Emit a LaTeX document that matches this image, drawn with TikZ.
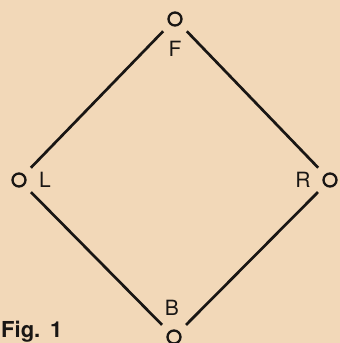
\documentclass[tikz,border=0pt]{standalone}
\usepackage{fontspec}
\setmainfont{TeX Gyre Heros}
\definecolor{paper}{RGB}{242,216,184}
\definecolor{ink}{RGB}{25,22,20}
\begin{document}
\begin{tikzpicture}[x=1pt,y=-1pt,
  pt/.style={circle,draw=ink,line width=2.3pt,minimum size=13pt,inner sep=0pt},
  edge/.style={draw=ink,line width=2.7pt,shorten <=17pt,shorten >=17pt},
  lab/.style={text=ink,font=\fontsize{21}{21}\selectfont,inner sep=0pt}]
\fill[paper] (0,0) rectangle (340,343);
\useasboundingbox (0,0) rectangle (340,343);
\node[pt] (F) at (175,19) {};
\node[pt] (L) at (19,180) {};
\node[pt] (R) at (330,180) {};
\node[pt] (B) at (174,337) {};
\node[lab] (tF) at (175,49) {F};
\node[lab] (tL) at (45,180) {L};
\node[lab] (tR) at (303,180) {R};
\node[lab] (tB) at (172,308) {B};
\node[lab,font=\bfseries\fontsize{22}{22}\selectfont,anchor=west] (fig) at (1,332) {Fig.\hspace{0.45em}1};
\draw[edge] (F.center) -- (L.center);
\draw[edge] (F.center) -- (R.center);
\draw[edge] (L.center) -- (B.center);
\draw[edge] (R.center) -- (B.center);
\end{tikzpicture}
\end{document}
